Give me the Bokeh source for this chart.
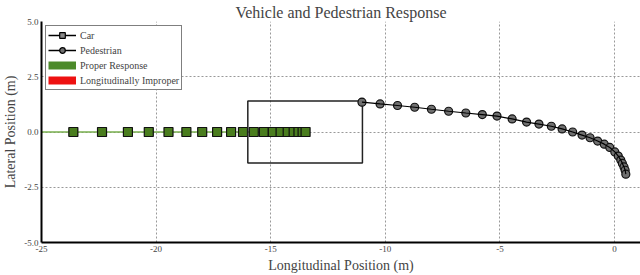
from bokeh.plotting import figure
from bokeh.models import (ColumnDataSource, FixedTicker, PrintfTickFormatter,
                          Legend, LegendItem, Range1d, CDSView, IndexFilter)
from bokeh.embed import file_html
from bokeh.resources import INLINE

# ---------------- data ----------------
car_x = [-23.61, -22.36, -21.23, -20.32, -19.46, -18.68, -17.99, -17.34,
         -16.73, -16.21, -15.74, -15.30, -14.91, -14.57, -14.26, -14.00,
         -13.79, -13.61, -13.48]
car_y = [0.0] * len(car_x)
car_track_start = -25.0

ped_x = [-11.02, -10.23, -9.47, -8.72, -7.99, -7.24, -6.49, -5.77, -5.13,
         -4.47, -3.84, -3.30, -2.76, -2.29, -1.83, -1.42, -1.07, -0.74,
         -0.45, -0.21, 0.01, 0.16, 0.27, 0.34, 0.41, 0.46, 0.49]
ped_y = [1.35, 1.27, 1.20, 1.12, 1.03, 0.94, 0.86, 0.79, 0.72, 0.59, 0.45,
         0.36, 0.26, 0.14, 0.0, -0.14, -0.26, -0.41, -0.55, -0.70, -0.90,
         -1.09, -1.27, -1.42, -1.58, -1.73, -1.91]

box_left, box_right = -16.0, -11.0
box_bottom, box_top = -1.4, 1.4

x_ticks = [-25, -20, -15, -10, -5, 0]
y_ticks = [-5.0, -2.5, 0.0, 2.5, 5.0]

SERIF = "Liberation Serif"

p = figure(width=640, height=275, output_backend="svg", toolbar_location=None,
           x_range=Range1d(-25, 1.13), y_range=Range1d(-5, 5),
           min_border_left=38, min_border_right=0, min_border_top=0,
           min_border_bottom=0)

p.title.text = "Vehicle and Pedestrian Response"
p.title.align = "center"
p.title.text_font = SERIF
p.title.text_font_size = "16px"
p.title.text_font_style = "normal"
p.title.standoff = 2

p.outline_line_color = None
p.background_fill_color = "white"

for ax in (p.xaxis[0], p.yaxis[0]):
    ax.axis_line_width = 2
    ax.axis_line_color = "black"
    ax.major_tick_in = 0
    ax.major_tick_out = 0
    ax.minor_tick_in = 0
    ax.minor_tick_out = 0
    ax.major_label_text_font = SERIF
    ax.major_label_text_font_size = "9px"
    ax.axis_label_text_font = SERIF
    ax.axis_label_text_font_size = "14px"
    ax.axis_label_text_font_style = "normal"
    ax.major_label_standoff = 3
    ax.axis_label_standoff = 3

p.xaxis.ticker = FixedTicker(ticks=x_ticks)
p.yaxis.ticker = FixedTicker(ticks=y_ticks)
p.xaxis.formatter = PrintfTickFormatter(format="%d")
p.yaxis.formatter = PrintfTickFormatter(format="%.1f")
p.xaxis.axis_label = "Longitudinal Position (m)"
p.yaxis.axis_label = "Lateral Position (m)"

for g in (p.xgrid[0], p.ygrid[0]):
    g.grid_line_color = "#999999"
    g.grid_line_dash = "2 2"
    g.grid_line_width = 1

car_src = ColumnDataSource(dict(x=car_x, y=car_y))
ped_src = ColumnDataSource(dict(x=ped_x, y=ped_y))

# legend proxies: one point each (lines draw nothing, markers hidden below real ones)
def first():
    return CDSView(filter=IndexFilter(indices=[0]))

l_car_line = p.line(x="x", y="y", source=car_src, view=first(), line_color="black", line_width=1.5)
l_car_mk = p.scatter(x="x", y="y", source=car_src, view=first(), marker="square", size=8,
                     fill_color="#8a8a8a", line_color="black", line_width=1.2)
l_ped_line = p.line(x="x", y="y", source=ped_src, view=first(), line_color="black", line_width=1.5)
l_ped_mk = p.scatter(x="x", y="y", source=ped_src, view=first(), marker="circle", size=7,
                     fill_color="#707070", line_color="black", line_width=1.2)
l_proper = p.line(x="x", y="y", source=car_src, view=first(), line_color="#4c8a2a", line_width=8)
l_improper = p.line(x="x", y="y", source=car_src, view=first(), line_color="#ee1111", line_width=8)

# car track line (proper response, green)
p.line([car_track_start] + car_x, [0.0] + car_y, line_color="#7ab04f", line_width=1.5)
p.scatter(x="x", y="y", source=car_src, marker="square", size=9, fill_color="#4a7d1e",
          line_color="#111111", line_width=1.2)

# bounding box
p.quad(left=[box_left], right=[box_right], bottom=[box_bottom], top=[box_top],
       fill_color=None, line_color="#222222", line_width=1.5)

# pedestrian
p.scatter(x="x", y="y", source=ped_src, marker="circle", size=8, fill_color="#707070",
          line_color="#111111", line_width=1.2)
p.line(x="x", y="y", source=ped_src, line_color="black", line_width=1.2)

legend = Legend(items=[
    LegendItem(label="Car", renderers=[l_car_line, l_car_mk]),
    LegendItem(label="Pedestrian", renderers=[l_ped_line, l_ped_mk]),
    LegendItem(label="Proper Response", renderers=[l_proper]),
    LegendItem(label="Longitudinally Improper", renderers=[l_improper]),
], location="top_left")
legend.label_text_font = SERIF
legend.label_text_font_size = "10px"
legend.label_height = 12
legend.glyph_height = 14
legend.glyph_width = 28
legend.label_standoff = 4
legend.spacing = 1
legend.padding = 2
legend.margin = 4
legend.border_line_color = "black"
legend.border_line_width = 1
legend.background_fill_alpha = 1.0
p.add_layout(legend)

open("out.html", "w").write(file_html(p, INLINE))
